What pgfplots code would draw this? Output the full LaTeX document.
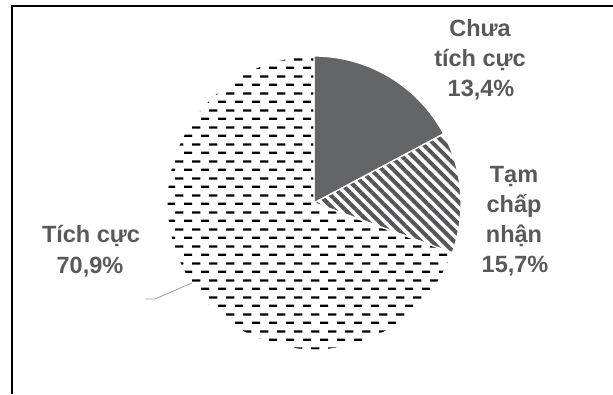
\documentclass[border=0pt]{standalone}
\usepackage{pgfplots}
\pgfplotsset{compat=1.18}
\usepackage{fontspec}
\setmainfont{Liberation Sans}
\usetikzlibrary{patterns.meta}
\definecolor{darkslice}{RGB}{100,101,103}
\definecolor{hatchcol}{RGB}{85,85,87}
\definecolor{labelcol}{RGB}{89,89,89}
\tikzdeclarepattern{
  name=dashrows,
  type=uncolored,
  bottom left={(0pt,0pt)},
  top right={(16.7pt,16.7pt)},
  tile size={(16.7pt,16.7pt)},
  code={
    \fill (0pt,3.2pt) rectangle (8.3pt,5.5pt);
    \fill (8.35pt,11.5pt) rectangle (16.65pt,13.8pt);
  }
}
% slice values (share of the full circle, in %), clockwise from 12 o'clock
\def\vA{17.2}% Chua tich cuc (dark)
\def\vB{13.3}% Tam chap nhan (hatched)
\def\vC{69.5}% Tich cuc (dashes)
\pgfmathsetmacro\aA{90}
\pgfmathsetmacro\aB{\aA-3.6*\vA}
\pgfmathsetmacro\aC{\aB-3.6*\vB}
\pgfmathsetmacro\aD{\aC-3.6*\vC}
\def\cx{314}
\def\cy{191}
\def\rr{147}
\begin{document}
\begin{tikzpicture}
\begin{axis}[
  width=613pt, height=394pt, scale only axis,
  xmin=0, xmax=613, ymin=0, ymax=394,
  hide axis, clip=false,
]
\coordinate (ll) at (axis cs:0,0);
\coordinate (ur) at (axis cs:613,394);
% frame (top and left edges visible)
\addplot[black, line width=1.4pt] coordinates {(12,0) (12,388) (613,388)};
% slices
\addplot[fill=darkslice, draw=white, line width=1.3pt, domain=\aB:\aA, samples=60, variable=\t]
  ({\cx+\rr*cos(\t)},{\cy+\rr*sin(\t)}) -- (axis cs:\cx,\cy) -- cycle;
\addplot[pattern={Lines[angle=-45,distance=7.8pt,line width=4pt]}, pattern color=hatchcol, draw=white, line width=1.3pt, domain=\aC:\aB, samples=60, variable=\t]
  ({\cx+\rr*cos(\t)},{\cy+\rr*sin(\t)}) -- (axis cs:\cx,\cy) -- cycle;
\addplot[pattern=dashrows, pattern color=black, draw=white, line width=1.3pt, domain=\aD:\aC, samples=200, variable=\t]
  ({\cx+\rr*cos(\t)},{\cy+\rr*sin(\t)}) -- (axis cs:\cx,\cy) -- cycle;
% leader line
\addplot[color=black!35, line width=0.9pt] coordinates {(145,95) (155,95) (192,111)};
% labels
\begin{scope}[every node/.style={anchor=base, text=labelcol, font=\fontsize{23.5}{30}\selectfont\bfseries, inner sep=0pt}]
\node at (axis cs:480,357) {Chưa};
\node at (axis cs:480,327) {tích cực};
\node at (axis cs:481,297) {13,4\%};
\node at (axis cs:514,211) {Tạm};
\node at (axis cs:514,181) {chấp};
\node at (axis cs:514,152) {nhận};
\node at (axis cs:515,122) {15,7\%};
\node at (axis cs:91,152) {Tích cực};
\node at (axis cs:90,121) {70,9\%};
\end{scope}
\end{axis}
\pgfresetboundingbox
\path[use as bounding box] (ll) rectangle (ur);
\end{tikzpicture}
\end{document}
